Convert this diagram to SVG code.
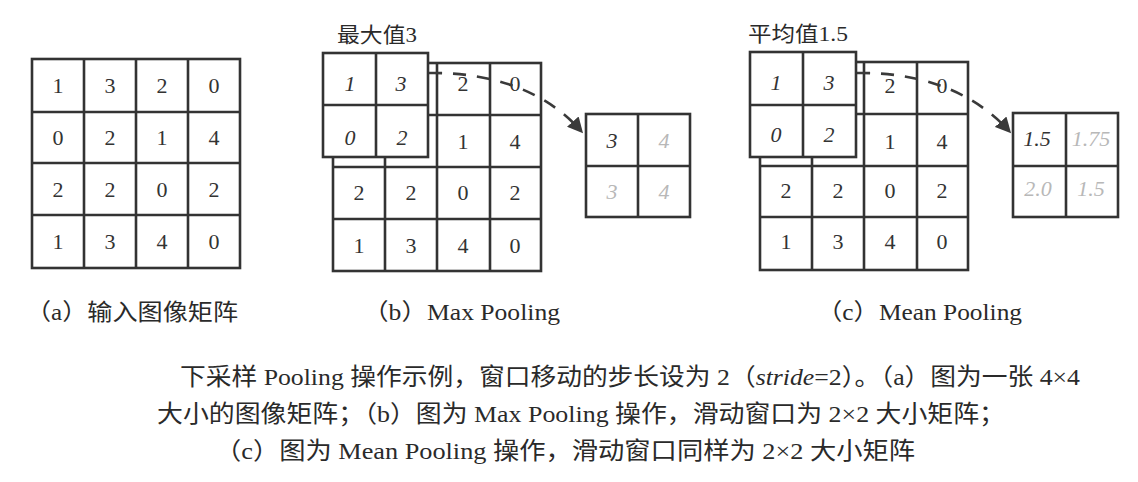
<svg xmlns="http://www.w3.org/2000/svg" width="1138" height="482" viewBox="0 0 1138 482">
<defs>
<style>
.g{fill:none;stroke:#333;stroke-width:2.6}
.w{fill:#fff;stroke:#333;stroke-width:2.6}
.n{font-family:"Liberation Serif","Noto Sans CJK SC",serif;font-size:22px;fill:#333;text-anchor:middle}
.i{font-style:italic}
.l{fill:#b8b8b8}
.t{font-family:"Liberation Serif","Noto Sans CJK SC",serif;fill:#2a2a2a}
.c{fill:none;stroke:#3a3a3a;stroke-width:2.6;stroke-dasharray:13 11}
</style>
<marker id="ah" viewBox="0 0 10 10" refX="8" refY="5" markerWidth="6" markerHeight="6" orient="auto" markerUnits="strokeWidth">
<path d="M0,0 L10,5 L0,10 z" fill="#3a3a3a"/>
</marker>
</defs>
<rect width="1138" height="482" fill="#fff"/>

<g id="matrix-a">
<rect class="g" x="32" y="59" width="208" height="209"/>
<path class="g" d="M84,59V268M136,59V268M188,59V268M32,112H240M32,163H240M32,215H240"/>
<g class="n">
<text x="58" y="93">1</text><text x="110" y="93">3</text><text x="162" y="93">2</text><text x="214" y="93">0</text>
<text x="58" y="145">0</text><text x="110" y="145">2</text><text x="162" y="145">1</text><text x="214" y="145">4</text>
<text x="58" y="197">2</text><text x="110" y="197">2</text><text x="162" y="197">0</text><text x="214" y="197">2</text>
<text x="58" y="249">1</text><text x="110" y="249">3</text><text x="162" y="249">4</text><text x="214" y="249">0</text>
</g>
</g>

<g id="matrix-b">
<rect class="g" x="333" y="63" width="208" height="208"/>
<path class="g" d="M385,63V271M437,63V271M490,63V271M333,115H541M333,167H541M333,219H541"/>
<g class="n">
<text x="463" y="91">2</text><text x="515" y="91">0</text>
<text x="463" y="149">1</text><text x="515" y="149">4</text>
<text x="359" y="200">2</text><text x="411" y="200">2</text><text x="463" y="200">0</text><text x="515" y="200">2</text>
<text x="359" y="253">1</text><text x="411" y="253">3</text><text x="463" y="253">4</text><text x="515" y="253">0</text>
</g>
</g>

<g id="matrix-c">
<rect class="g" x="760" y="62" width="208" height="208"/>
<path class="g" d="M812,62V270M864,62V270M917,62V270M760,114H968M760,166H968M760,217H968"/>
<g class="n">
<text x="890" y="93">2</text><text x="942" y="93">0</text>
<text x="890" y="149">1</text><text x="942" y="149">4</text>
<text x="786" y="198">2</text><text x="838" y="198">2</text><text x="890" y="198">0</text><text x="942" y="198">2</text>
<text x="786" y="249">1</text><text x="838" y="249">3</text><text x="890" y="249">4</text><text x="942" y="249">0</text>
</g>
</g>

<g id="connectors">
<path class="c" d="M429,73 C490,72 545,90 581,131" marker-end="url(#ah)"/>
<path class="c" d="M857,73 C918,72 972,90 1009,131" marker-end="url(#ah)"/>
</g>

<g id="window-b">
<rect class="w" x="323" y="53" width="105" height="104"/>
<path class="g" d="M376,53V157M323,105H428"/>
<g class="n i">
<text x="350" y="91">1</text><text x="401" y="91">3</text>
<text x="350" y="145">0</text><text x="402" y="145">2</text>
</g>
</g>

<g id="window-c">
<rect class="w" x="750" y="52" width="106" height="105"/>
<path class="g" d="M803,52V157M750,105H856"/>
<g class="n i">
<text x="776" y="90">1</text><text x="829" y="90">3</text>
<text x="776" y="142">0</text><text x="829" y="142">2</text>
</g>
</g>

<g id="result-b">
<rect class="w" x="586" y="114" width="104" height="103"/>
<path class="g" d="M638,114V217M586,166H690"/>
<g class="n i">
<text x="612" y="148">3</text><text class="l" x="664" y="148">4</text>
<text class="l" x="612" y="199">3</text><text class="l" x="664" y="199">4</text>
</g>
</g>

<g id="result-c">
<rect class="w" x="1013" y="113" width="105" height="104"/>
<path class="g" d="M1066,113V217M1013,166H1118"/>
<g class="n i">
<text x="1037" y="146">1.5</text><text class="l" x="1091" y="146">1.75</text>
<text class="l" x="1038" y="196">2.0</text><text class="l" x="1091" y="196">1.5</text>
</g>
</g>

<g id="labels" class="t">
<text x="337" y="42" font-size="21" textLength="80" lengthAdjust="spacingAndGlyphs">最大值3</text>
<text x="748" y="41" font-size="21" textLength="100" lengthAdjust="spacingAndGlyphs">平均值1.5</text>
<text x="26" y="320" font-size="23" textLength="212" lengthAdjust="spacingAndGlyphs">（a）输入图像矩阵</text>
<text x="363" y="320" font-size="23" textLength="197" lengthAdjust="spacingAndGlyphs">（b）Max Pooling</text>
<text x="817" y="320" font-size="23" textLength="205" lengthAdjust="spacingAndGlyphs">（c）Mean Pooling</text>
</g>

<g id="caption" class="t" font-size="24">
<text x="180" y="385" textLength="900" lengthAdjust="spacingAndGlyphs">下采样 Pooling 操作示例，窗口移动的步长设为 2（<tspan font-style="italic">stride</tspan>=2）。（a）图为一张 4×4</text>
<text x="157" y="422" textLength="848" lengthAdjust="spacingAndGlyphs">大小的图像矩阵；（b）图为 Max Pooling 操作，滑动窗口为 2×2 大小矩阵；</text>
<text x="215" y="459" textLength="700" lengthAdjust="spacingAndGlyphs">（c）图为 Mean Pooling 操作，滑动窗口同样为 2×2 大小矩阵</text>
</g>
</svg>
